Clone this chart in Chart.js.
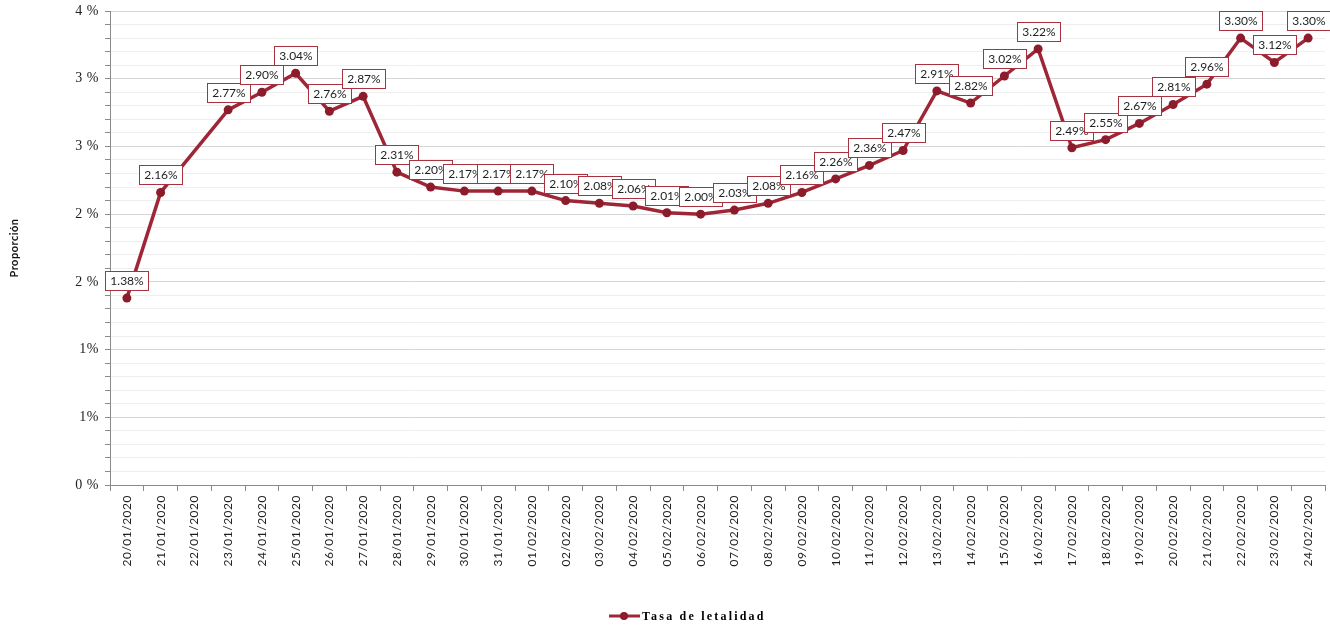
<!DOCTYPE html>
<html>
<head>
<meta charset="utf-8">
<script src="https://cdn.jsdelivr.net/npm/chart.js@4"></script>
<style>
  html, body { margin: 0; padding: 0; background: #fff; }
  #wrap { width: 1330px; height: 628px; }
</style>
</head>
<body>
<div id="wrap"><canvas id="chart" width="1330" height="628"></canvas></div>
<script>
// fechas (eje x)
const fechas = [
  '20/01/2020', '21/01/2020', '22/01/2020', '23/01/2020', '24/01/2020', '25/01/2020',
  '26/01/2020', '27/01/2020', '28/01/2020', '29/01/2020', '30/01/2020', '31/01/2020',
  '01/02/2020', '02/02/2020', '03/02/2020', '04/02/2020', '05/02/2020', '06/02/2020',
  '07/02/2020', '08/02/2020', '09/02/2020', '10/02/2020', '11/02/2020', '12/02/2020',
  '13/02/2020', '14/02/2020', '15/02/2020', '16/02/2020', '17/02/2020', '18/02/2020',
  '19/02/2020', '20/02/2020', '21/02/2020', '22/02/2020', '23/02/2020', '24/02/2020'
];

// tasa de letalidad (%), 22/01 sin dato
const tasa = [
  1.38, 2.16, null, 2.77, 2.90, 3.04,
  2.76, 2.87, 2.31, 2.20, 2.17, 2.17,
  2.17, 2.10, 2.08, 2.06, 2.01, 2.00,
  2.03, 2.08, 2.16, 2.26, 2.36, 2.47,
  2.91, 2.82, 3.02, 3.22, 2.49, 2.55,
  2.67, 2.81, 2.96, 3.30, 3.12, 3.30
];

const serieNombre = 'Tasa de letalidad';
const rojo = '#9e2636';
const rojoPunto = '#8c1c2c';

// letter spacing for axis text (canvas state is reset on resize)
const spacing = {
  id: 'spacing',
  beforeLayout(chart) { chart.ctx.letterSpacing = '0.5px'; },
  beforeDraw(chart) { chart.ctx.letterSpacing = '0.5px'; }
};

// boxed value labels above each point
const valueLabels = {
  id: 'valueLabels',
  afterDatasetsDraw(chart) {
    const ctx = chart.ctx;
    const meta = chart.getDatasetMeta(0);
    ctx.save();
    ctx.letterSpacing = '0px';
    ctx.font = '12px Lato';
    ctx.textAlign = 'center';
    ctx.textBaseline = 'middle';
    meta.data.forEach((pt, i) => {
      const v = tasa[i];
      if (v === null) return;
      const txt = v.toFixed(2) + '%';
      const w = Math.round(ctx.measureText(txt).width + 10);
      const h = 19;
      const x = Math.round(pt.x - w / 2) + 0.5;
      const y = Math.round(pt.y - 8 - h) + 0.5;
      ctx.fillStyle = '#fff';
      ctx.fillRect(x, y, w, h);
      ctx.strokeStyle = '#a8323f';
      ctx.lineWidth = 1;
      ctx.strokeRect(x, y, w, h);
      ctx.fillStyle = '#1e1e1e';
      ctx.fillText(txt, x + w / 2, y + h / 2 + 0.5);
    });
    ctx.restore();
  }
};

// legend drawn at the bottom centre
const bottomLegend = {
  id: 'bottomLegend',
  afterDraw(chart) {
    const ctx = chart.ctx;
    const cy = 616;
    ctx.save();
    ctx.strokeStyle = rojo;
    ctx.lineWidth = 3;
    ctx.beginPath();
    ctx.moveTo(609, cy);
    ctx.lineTo(640, cy);
    ctx.stroke();
    ctx.fillStyle = rojoPunto;
    ctx.beginPath();
    ctx.arc(624, cy, 4, 0, Math.PI * 2);
    ctx.fill();
    ctx.letterSpacing = '2.2px';
    ctx.font = 'bold 12px "Liberation Serif"';
    ctx.fillStyle = '#000';
    ctx.textBaseline = 'middle';
    ctx.fillText(serieNombre, 642, cy + 1);
    ctx.restore();
  }
};

new Chart(document.getElementById('chart').getContext('2d'), {
  type: 'line',
  data: {
    labels: fechas,
    datasets: [{
      label: serieNombre,
      data: tasa,
      borderColor: rojo,
      backgroundColor: rojoPunto,
      borderWidth: 3.5,
      pointRadius: 4.5,
      pointHoverRadius: 4.5,
      pointBackgroundColor: rojoPunto,
      pointBorderColor: rojoPunto,
      pointBorderWidth: 0,
      tension: 0,
      spanGaps: true
    }]
  },
  options: {
    responsive: false,
    animation: false,
    layout: { padding: { top: 11, right: 5, left: 0, bottom: 0 } },
    plugins: {
      legend: { display: false },
      tooltip: { enabled: false }
    },
    scales: {
      x: {
        offset: true,
        grid: {
          offset: true,
          drawOnChartArea: false,
          drawTicks: true,
          tickLength: 6,
          tickColor: '#8a8a8a'
        },
        border: { color: '#8a8a8a', width: 1 },
        ticks: {
          autoSkip: false,
          minRotation: 90,
          maxRotation: 90,
          padding: 4,
          color: '#1e1e1e',
          font: { family: 'Lato', size: 12 }
        },
        afterFit(scale) { scale.height = 143; }
      },
      y: {
        min: 0,
        max: 3.5,
        grid: {
          color: ctx => {
            const v = Math.round(ctx.tick.value * 10);
            return v % 5 === 0 ? '#d6d6d6' : '#eeeeee';
          },
          tickColor: '#8a8a8a',
          tickLength: 5,
          lineWidth: 1
        },
        border: { color: '#8a8a8a', width: 1 },
        ticks: {
          stepSize: 0.1,
          autoSkip: false,
          padding: 6,
          color: '#222',
          font: { family: 'Liberation Serif', size: 14 },
          callback: v => {
            const t = Math.round(v * 10);
            if (t % 5 !== 0) return '';
            const n = Math.round(v + 0.001);
            return n === 1 ? '1%' : n + ' %';
          }
        },
        title: {
          display: true,
          text: 'Proporción',
          color: '#111',
          font: { family: 'Lato', size: 11, weight: 'bold' },
          padding: { top: 8, bottom: 0 }
        },
        afterFit(scale) {
          scale.width = 110;
          scale.paddingTop = 0;
          scale.paddingBottom = 0;
        }
      }
    }
  },
  plugins: [spacing, valueLabels, bottomLegend]
});
</script>
</body>
</html>
